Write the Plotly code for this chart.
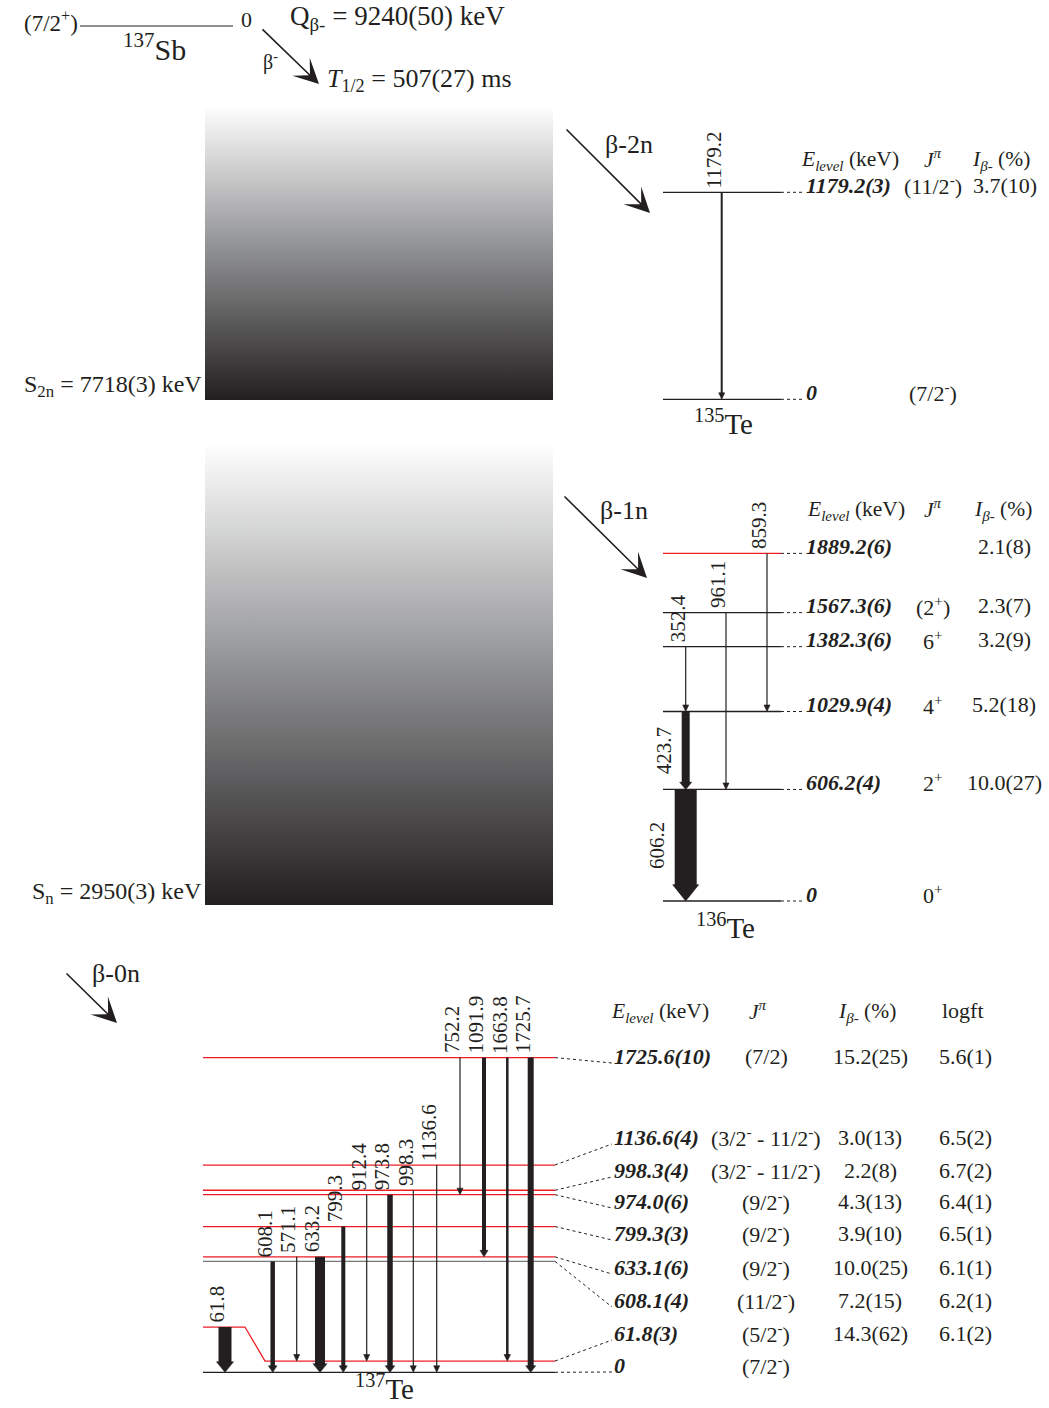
import plotly.graph_objects as go

W, H = 1049, 1408
FONT = "Liberation Serif, Times New Roman, serif"
INK = "#231f20"
RED = "#ed1c24"
GRAY = "#77787b"

# ---------------------------------------------------------------- data
parent_name = "<sup>137</sup>Sb"
parent_spin = "(7/2<sup>+</sup>)"
parent_energy = "0"
q_beta = "9240(50)"
half_life = "507(27)"
s2n_value = "7718(3)"
sn_value = "2950(3)"

# 135Te (beta-2n)
te135_levels = [0.0, 1179.2]
te135_level_text = ["0", "1179.2(3)"]
te135_spin = ["(7/2<sup>-</sup>)", "(11/2<sup>-</sup>)"]
te135_ibeta = ["", "3.7(10)"]
te135_gamma = [1179.2]
te135_from = [1179.2]
te135_to = [0.0]

# 136Te (beta-1n)
te136_levels = [0.0, 606.2, 1029.9, 1382.3, 1567.3, 1889.2]
te136_level_text = ["0", "606.2(4)", "1029.9(4)", "1382.3(6)", "1567.3(6)", "1889.2(6)"]
te136_spin = ["0<sup>+</sup>", "2<sup>+</sup>", "4<sup>+</sup>", "6<sup>+</sup>", "(2<sup>+</sup>)", ""]
te136_ibeta = ["", "10.0(27)", "5.2(18)", "3.2(9)", "2.3(7)", "2.1(8)"]
te136_gamma = [352.4, 961.1, 859.3, 423.7, 606.2]
te136_from = [1382.3, 1567.3, 1889.2, 1029.9, 606.2]
te136_to = [1029.9, 606.2, 1029.9, 606.2, 0.0]

# 137Te (beta-0n)
te137_levels = [0.0, 61.8, 608.1, 633.1, 799.3, 974.0, 998.3, 1136.6, 1725.6]
te137_level_text = ["0", "61.8(3)", "608.1(4)", "633.1(6)", "799.3(3)", "974.0(6)",
                    "998.3(4)", "1136.6(4)", "1725.6(10)"]
te137_spin = ["(7/2<sup>-</sup>)", "(5/2<sup>-</sup>)", "(11/2<sup>-</sup>)", "(9/2<sup>-</sup>)",
              "(9/2<sup>-</sup>)", "(9/2<sup>-</sup>)", "(3/2<sup>-</sup> - 11/2<sup>-</sup>)",
              "(3/2<sup>-</sup> - 11/2<sup>-</sup>)", "(7/2)"]
te137_ibeta = ["", "14.3(62)", "7.2(15)", "10.0(25)", "3.9(10)", "4.3(13)", "2.2(8)", "3.0(13)", "15.2(25)"]
te137_logft = ["", "6.1(2)", "6.2(1)", "6.1(1)", "6.5(1)", "6.4(1)", "6.7(2)", "6.5(2)", "5.6(1)"]
te137_gamma = [61.8, 608.1, 571.1, 633.2, 799.3, 912.4, 973.8, 998.3, 1136.6, 752.2, 1091.9, 1663.8, 1725.7]
te137_from = [61.8, 608.1, 633.1, 633.1, 799.3, 974.0, 974.0, 998.3, 1136.6, 1725.6, 1725.6, 1725.6, 1725.6]
te137_to = [0.0, 0.0, 61.8, 0.0, 0.0, 61.8, 0.0, 0.0, 0.0, 974.0, 633.1, 61.8, 0.0]

# ---------------------------------------------------------------- layout / style (pixels)
# energy axes: (pixel row of 0 keV, pixels per keV)
SCALE = {"y": (1372.3, 0.18236), "y2": (901.0, 0.184), "y3": (399.3, 0.17554)}

te135_gx = [721.7]
te135_gw = [2.0]
te135_side = ["top"]
te135_colors = [INK, INK]

te136_gx = [685.7, 726.0, 767.0, 685.7, 685.7]
te136_gw = [1.2, 1.2, 1.2, 8.0, 22.0]
te136_side = ["top", "top", "top", "left", "left"]
te136_colors = [INK, INK, INK, INK, INK, RED]

te137_gx = [225, 272.7, 296.7, 320, 343.3, 366.7, 390, 413.3, 436.7, 460, 484, 507.3, 530.7]
te137_gw = [13, 4.5, 1.2, 10, 4, 1.2, 5.5, 1.2, 1.2, 1.2, 4, 2.5, 6]
te137_side = ["top"] * len(te137_gamma)
te137_colors = [INK, RED, GRAY, RED, RED, RED, RED, RED, RED]
te137_rows = [1365, 1333, 1300, 1267, 1233, 1201, 1170, 1137, 1056]   # table rows (px)
KINK = {61.8: (34.0, 245.0, 265.0)}   # raise (px), kink start x, kink end x


def energy_range(zero_px, px_per_kev):
    top = zero_px / px_per_kev
    return [top - H / px_per_kev, top]


def px_to_kev(axis, py):
    zero, s = SCALE[axis]
    return (zero - py) / s


fig = go.Figure()
ann = []


def text(x, y, s, size=21, yref="y4", xanchor="center", yanchor="middle", angle=0,
         xshift=0, yshift=0):
    ann.append(dict(x=x, y=y, xref="x", yref=yref, text=s, showarrow=False, textangle=angle,
                    xanchor=xanchor, yanchor=yanchor, xshift=xshift, yshift=yshift, borderpad=0,
                    font=dict(family=FONT, size=size, color=INK)))


def arrow(x0, y0, x1, y1):
    ann.append(dict(x=x1, y=y1, ax=x0, ay=y0, xref="x", yref="y4", axref="x", ayref="y4",
                    showarrow=True, arrowhead=3, arrowsize=2.6, arrowwidth=1.6, arrowcolor=INK,
                    standoff=0, text=""))


def gradient_box(x0, x1, ytop, ybot):
    fig.add_trace(go.Scatter(
        x=[x0, x1, x1, x0, x0], y=[ytop, ytop, ybot, ybot, ytop], yaxis="y4", mode="lines",
        line=dict(width=0), fill="toself",
        fillgradient=dict(type="vertical", start=ybot, stop=ytop,
                          colorscale=[[0, "#231f20"], [0.5, "#8d8e90"], [1, "#ffffff"]]),
        hoverinfo="skip"))


def add_levels(levels, colors, x0, x1, axis, kinks=None):
    s = SCALE[axis][1]
    groups = {}
    for E, c in zip(levels, colors):
        xs, ys = groups.setdefault(c, ([], []))
        if kinks and E in kinks:
            raise_px, kx0, kx1 = kinks[E]
            Er = E + raise_px / s
            xs += [x0, kx0, kx1, x1, None]
            ys += [Er, Er, E, E, None]
        else:
            xs += [x0, x1, None]
            ys += [E, E, None]
    for c, (xs, ys) in groups.items():
        fig.add_trace(go.Scatter(x=xs, y=ys, yaxis=axis, mode="lines",
                                 line=dict(color=c, width=1.3), hoverinfo="skip"))


def add_transitions(gammas, froms, tos, gx, gw, sides, axis, kinks=None):
    s = SCALE[axis][1]
    hx, hy = [], []
    for g, Ef, Et, x, w, side in zip(gammas, froms, tos, gx, gw, sides):
        start = Ef
        if kinks and Ef in kinks and x < kinks[Ef][1]:
            start = Ef + kinks[Ef][0] / s
        hw = max(w / 2 + 2.0, 3.0)
        hh = max(6.5, 0.65 * w + 2.0) / s
        fig.add_trace(go.Scatter(x=[x, x], y=[start, Et + hh * 0.9], yaxis=axis, mode="lines",
                                 line=dict(color=INK, width=w), hoverinfo="skip"))
        hx += [x - hw, x + hw, x, x - hw, None]
        hy += [Et + hh, Et + hh, Et, Et + hh, None]
        label = f"{g:.1f}"
        if side == "top":
            text(x, start, label, size=21, yref=axis, angle=-90, xanchor="center",
                 yanchor="bottom", xshift=-8, yshift=3)
        else:
            text(x - w / 2 - 4, (start + Et) / 2, label, size=21, yref=axis, angle=-90,
                 xanchor="right", yanchor="middle")
    fig.add_trace(go.Scatter(x=hx, y=hy, yaxis=axis, mode="lines", fill="toself",
                             fillcolor=INK, line=dict(color=INK, width=0.6), hoverinfo="skip"))


def dotted(xs, ys, axis):
    fig.add_trace(go.Scatter(x=xs, y=ys, yaxis=axis, mode="lines",
                             line=dict(color=INK, width=1, dash="dot"), hoverinfo="skip"))


# ---------------------------------------------------------------- neutron-unbound regions
gradient_box(205, 553, 105, 400)
gradient_box(205, 553, 443, 905)

# ---------------------------------------------------------------- parent 137Sb
fig.add_trace(go.Scatter(x=[80, 233], y=[26, 26], yaxis="y4", mode="lines",
                         line=dict(color=INK, width=1.2), hoverinfo="skip"))
text(79, 21, parent_spin, size=23, xanchor="right")
text(240, 19, parent_energy, size=22, xanchor="left")
text(154, 47, parent_name, size=30)
arrow(261, 28, 319, 84)
text(270, 61, "β<sup>-</sup>", size=20)
text(289, 18, f"Q<sub>β-</sub> = {q_beta} keV", size=27, xanchor="left")
text(326, 80, f"<i>T</i><sub>1/2</sub> = {half_life} ms", size=26, xanchor="left")
text(203, 386, f"S<sub>2n</sub> = {s2n_value} keV", size=24, xanchor="right")
text(203, 893, f"S<sub>n</sub> = {sn_value} keV", size=24, xanchor="right")

# ---------------------------------------------------------------- 135Te
arrow(565, 128, 650, 213)
text(629, 144, "β-2n", size=26)
add_levels(te135_levels, te135_colors, 663, 781, "y3")
for E in te135_levels:
    dotted([781, 804], [E, E], "y3")
add_transitions(te135_gamma, te135_from, te135_to, te135_gx, te135_gw, te135_side, "y3")
text(800, 160, "<i>E<sub>level</sub></i> (keV)", size=21.5, xanchor="left")
text(933, 158, "<i>J<sup>π</sup></i>", size=21.5)
text(1001, 160, "<i>I<sub>β-</sub></i> (%)", size=21.5)
for E, lt, sp, ib in zip(te135_levels, te135_level_text, te135_spin, te135_ibeta):
    text(805, E, f"<b><i>{lt}</i></b>", size=22, yref="y3", xanchor="left", yshift=7)
    if sp:
        text(933, E, sp, size=22, yref="y3", yshift=7)
    if ib:
        text(1005, E, ib, size=22, yref="y3", yshift=7)
text(723, 422, "<sup>135</sup>Te", size=29)

# ---------------------------------------------------------------- 136Te
arrow(563, 495, 647, 578)
text(624, 510, "β-1n", size=26)
add_levels(te136_levels, te136_colors, 663, 781, "y2")
for E in te136_levels:
    dotted([781, 804], [E, E], "y2")
add_transitions(te136_gamma, te136_from, te136_to, te136_gx, te136_gw, te136_side, "y2")
text(806, 510, "<i>E<sub>level</sub></i> (keV)", size=21.5, xanchor="left")
text(933, 508, "<i>J<sup>π</sup></i>", size=21.5)
text(1003, 510, "<i>I<sub>β-</sub></i> (%)", size=21.5)
for E, lt, sp, ib in zip(te136_levels, te136_level_text, te136_spin, te136_ibeta):
    text(805, E, f"<b><i>{lt}</i></b>", size=22, yref="y2", xanchor="left", yshift=7)
    if sp:
        text(933, E, sp, size=22, yref="y2", yshift=7)
    if ib:
        text(1004, E, ib, size=22, yref="y2", yshift=7)
text(725, 926, "<sup>136</sup>Te", size=29)

# ---------------------------------------------------------------- 137Te
arrow(65, 972, 117, 1023)
text(116, 973, "β-0n", size=26)
add_levels(te137_levels, te137_colors, 203, 555, "y", kinks=KINK)
for E, row in zip(te137_levels, te137_rows):
    dotted([555, 612], [E, px_to_kev("y", row + 7)], "y")
add_transitions(te137_gamma, te137_from, te137_to, te137_gx, te137_gw, te137_side, "y", kinks=KINK)
text(610, 1012, "<i>E<sub>level</sub></i> (keV)", size=21.5, xanchor="left")
text(758, 1010, "<i>J<sup>π</sup></i>", size=21.5)
text(867, 1012, "<i>I<sub>β-</sub></i> (%)", size=21.5)
text(963, 1010, "logft", size=22)
for row, lt, sp, ib, lf in zip(te137_rows, te137_level_text, te137_spin, te137_ibeta, te137_logft):
    text(613, row, f"<b><i>{lt}</i></b>", size=22, xanchor="left")
    text(766, row, sp, size=22)
    if ib:
        text(870, row, ib, size=22)
    if lf:
        text(965, row, lf, size=22)
text(384, 1387, "<sup>137</sup>Te", size=29)

# ---------------------------------------------------------------- layout
hidden = dict(visible=False, showgrid=False, zeroline=False, fixedrange=True)
fig.update_layout(
    width=W, height=H, autosize=False,
    margin=dict(l=0, r=0, t=0, b=0, pad=0),
    paper_bgcolor="white", plot_bgcolor="white", showlegend=False,
    xaxis=dict(range=[0, W], **hidden),
    yaxis=dict(range=energy_range(*SCALE["y"]), **hidden),
    yaxis2=dict(range=energy_range(*SCALE["y2"]), overlaying="y", anchor="x", **hidden),
    yaxis3=dict(range=energy_range(*SCALE["y3"]), overlaying="y", anchor="x", **hidden),
    yaxis4=dict(range=[H, 0], overlaying="y", anchor="x", **hidden),
    annotations=ann,
)

fig.write_html("out.html")
